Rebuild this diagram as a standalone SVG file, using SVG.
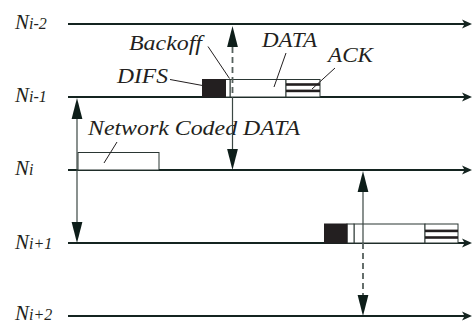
<svg xmlns="http://www.w3.org/2000/svg" width="473" height="324" viewBox="0 0 473 324">
  <style>
    .lbl { font-family: "Liberation Serif", "Times New Roman", serif; font-style: italic; fill: #231f20; }
    .n { font-size: 21px; }
    .sub { font-size: 16px; }
    .cap { font-size: 22px; }
    .timeline { stroke: #142420; stroke-width: 2; fill: none; }
    .head { fill: #142420; }
    .box { fill: #ffffff; stroke: #2a3633; stroke-width: 1; }
    .difs { fill: #231f20; stroke: #231f20; stroke-width: 1; }
    .stripe { fill: #231f20; }
    .leader { stroke: #231f20; stroke-width: 1; fill: none; }
    .vsolid { stroke: #3b4744; stroke-width: 1.2; fill: none; }
    .vdash { stroke: #55605d; stroke-width: 1.8; stroke-dasharray: 6 4; fill: none; }
    .vhead { fill: #0e1e1a; }
  </style>
  <defs>
    <!-- barbed arrowhead for the timelines, tip at origin -->
    <path id="tlHead" d="M0,0 L-10,-4.6 L-7.4,0 L-10,4.6 Z"/>
    <!-- filled triangle heads for vertical arrows, tip at origin -->
    <path id="upHead" d="M0,0 L-5.4,21 L5.4,21 Z"/>
    <path id="downHead" d="M0,0 L-5.4,-21 L5.4,-21 Z"/>
  </defs>

  <!-- node timelines -->
  <g id="node-i-2">
    <text class="lbl n" x="15" y="29">N<tspan class="sub">i-2</tspan></text>
    <line class="timeline" x1="68" y1="24" x2="466" y2="24"/>
    <use href="#tlHead" class="head" x="472" y="24"/>
  </g>
  <g id="node-i-1">
    <text class="lbl n" x="15" y="102">N<tspan class="sub">i-1</tspan></text>
    <line class="timeline" x1="68" y1="97" x2="466" y2="97"/>
    <use href="#tlHead" class="head" x="472" y="97"/>
  </g>
  <g id="node-i">
    <text class="lbl n" x="15" y="175">N<tspan class="sub">i</tspan></text>
    <line class="timeline" x1="68" y1="170" x2="466" y2="170"/>
    <use href="#tlHead" class="head" x="472" y="170"/>
  </g>
  <g id="node-i+1">
    <text class="lbl n" x="15" y="249">N<tspan class="sub">i+1</tspan></text>
    <line class="timeline" x1="68" y1="243" x2="466" y2="243"/>
    <use href="#tlHead" class="head" x="472" y="243"/>
  </g>
  <g id="node-i+2">
    <text class="lbl n" x="15" y="320">N<tspan class="sub">i+2</tspan></text>
    <line class="timeline" x1="68" y1="316" x2="466" y2="316"/>
    <use href="#tlHead" class="head" x="472" y="316"/>
  </g>

  <!-- frame exchange on N(i-1) -->
  <g id="frames-i-1">
    <rect class="box" x="230" y="79.5" width="56" height="17.5"/>
    <rect class="box" x="225.5" y="79.5" width="4.5" height="17.5"/>
    <rect class="difs" x="202.5" y="79.5" width="23" height="17.5"/>
    <rect class="box" x="286" y="79.5" width="34" height="17.5"/>
    <rect class="stripe" x="286" y="83.2" width="34" height="2.6"/>
    <rect class="stripe" x="286" y="89.6" width="34" height="2.6"/>
  </g>

  <!-- network coded frame on N(i) -->
  <g id="frame-i">
    <rect class="box" x="78" y="152.5" width="81" height="17.5"/>
  </g>

  <!-- frame exchange on N(i+1) -->
  <g id="frames-i+1">
    <rect class="box" x="354" y="224" width="71" height="19"/>
    <rect class="box" x="347" y="224" width="7" height="19"/>
    <rect class="difs" x="324.5" y="224" width="22.5" height="19"/>
    <rect class="box" x="425" y="224" width="33" height="19"/>
    <rect class="stripe" x="425" y="229.6" width="33" height="2.6"/>
    <rect class="stripe" x="425" y="236.2" width="33" height="2.6"/>
  </g>

  <!-- labels with leader lines -->
  <g id="labels">
    <text class="lbl cap" x="129" y="50" textLength="73" lengthAdjust="spacingAndGlyphs">Backoff</text>
    <line class="leader" x1="208" y1="46.5" x2="229.5" y2="78.5"/>
    <text class="lbl cap" x="117" y="83" textLength="51" lengthAdjust="spacingAndGlyphs">DIFS</text>
    <line class="leader" x1="170" y1="79.5" x2="202.5" y2="85.5"/>
    <text class="lbl cap" x="262" y="47" textLength="55" lengthAdjust="spacingAndGlyphs">DATA</text>
    <line class="leader" x1="286" y1="53" x2="274" y2="87"/>
    <text class="lbl cap" x="328" y="62" textLength="45" lengthAdjust="spacingAndGlyphs">ACK</text>
    <line class="leader" x1="335" y1="68" x2="312" y2="89"/>
    <text class="lbl cap" x="88" y="135" textLength="212" lengthAdjust="spacingAndGlyphs">Network Coded DATA</text>
    <line class="leader" x1="117" y1="142" x2="104" y2="163"/>
  </g>

  <!-- transmission range connectors -->
  <g id="connectors">
    <!-- N(i-1) reaching N(i+1) -->
    <line class="vsolid" x1="77" y1="115" x2="77" y2="225"/>
    <use href="#upHead" class="vhead" x="77" y="98"/>
    <use href="#downHead" class="vhead" x="77" y="243"/>

    <!-- sender on N(i-1): N(i-2) above, N(i) below -->
    <line class="vdash" x1="232.5" y1="47" x2="232.5" y2="97"/>
    <line class="vsolid" x1="232.5" y1="97" x2="232.5" y2="150"/>
    <use href="#upHead" class="vhead" x="232.5" y="26"/>
    <use href="#downHead" class="vhead" x="232.5" y="170"/>

    <!-- sender on N(i+1): N(i) above, N(i+2) below -->
    <line class="vsolid" x1="363" y1="190" x2="363" y2="243"/>
    <line class="vdash" x1="363" y1="243" x2="363" y2="296"/>
    <use href="#upHead" class="vhead" x="363" y="171"/>
    <use href="#downHead" class="vhead" x="363" y="316"/>
  </g>
</svg>
